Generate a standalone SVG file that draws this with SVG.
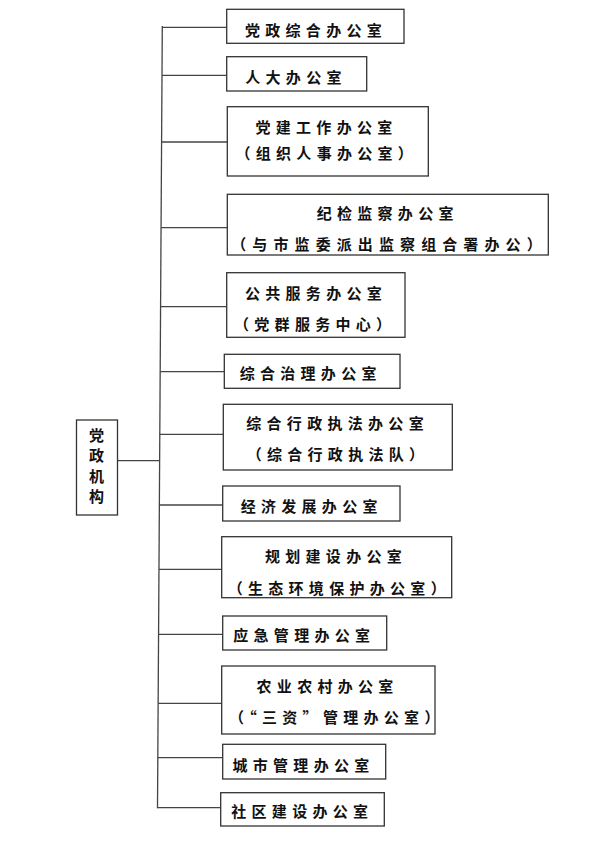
<svg xmlns="http://www.w3.org/2000/svg" width="600" height="841" viewBox="0 0 600 841">
<style>
.box{fill:#fff;stroke:#333;stroke-width:1.3}
.ln{stroke:#444;stroke-width:1.3;fill:none}
text{font-family:"Noto Sans CJK SC","Noto Sans CJK TC",sans-serif;font-weight:700;font-size:15px;fill:#111;letter-spacing:5.3px;text-anchor:middle}
.r{letter-spacing:0}
</style>
<rect width="600" height="841" fill="#fff"/>
<g id="connectors">
<line class="ln" x1="162.3" y1="26" x2="157.5" y2="808.3"/>
<line class="ln" x1="117.5" y1="460.7" x2="159.6" y2="460.7"/>
<line class="ln" x1="162.3" y1="27.3" x2="226.7" y2="27.3"/>
<line class="ln" x1="162" y1="75.3" x2="226.7" y2="75.3"/>
<line class="ln" x1="161.6" y1="142" x2="227.3" y2="142"/>
<line class="ln" x1="161.1" y1="227.7" x2="227.3" y2="227.7"/>
<line class="ln" x1="160.6" y1="306.7" x2="226.7" y2="306.7"/>
<line class="ln" x1="160.2" y1="371.7" x2="224.3" y2="371.7"/>
<line class="ln" x1="159.8" y1="434.3" x2="223.3" y2="434.3"/>
<line class="ln" x1="159.4" y1="505" x2="222.7" y2="505"/>
<line class="ln" x1="159" y1="569.3" x2="221.7" y2="569.3"/>
<line class="ln" x1="158.6" y1="634.3" x2="222.7" y2="634.3"/>
<line class="ln" x1="158.1" y1="703.3" x2="221.7" y2="703.3"/>
<line class="ln" x1="157.8" y1="757.7" x2="222.7" y2="757.7"/>
<line class="ln" x1="157.5" y1="807.7" x2="220.7" y2="807.7"/>
</g>
<g id="root">
<rect class="box" x="76.5" y="420" width="41" height="95"/>
<text class="r" x="96.5" y="440.5">党</text>
<text class="r" x="96.5" y="461">政</text>
<text class="r" x="96.5" y="481.5">机</text>
<text class="r" x="96.5" y="502">构</text>
</g>
<g id="n1">
<rect class="box" x="226.7" y="9.3" width="177.3" height="34"/>
<text x="316" y="35.5">党政综合办公室</text>
</g>
<g id="n2">
<rect class="box" x="226.7" y="56.7" width="140" height="34.3"/>
<text x="296" y="83">人大办公室</text>
</g>
<g id="n3">
<rect class="box" x="227.3" y="106.7" width="201" height="69.3"/>
<text x="326.5" y="132.5">党建工作办公室</text>
<text x="326.8" y="159.2">（组织人事办公室）</text>
</g>
<g id="n4">
<rect class="box" x="227.3" y="194.3" width="321" height="60.7"/>
<text x="387.7" y="218.5">纪检监察办公室</text>
<text x="389.5" y="249.5" style="letter-spacing:6.1px">（与市监委派出监察组合署办公）</text>
</g>
<g id="n5">
<rect class="box" x="226.7" y="272.7" width="178.3" height="64.6"/>
<text x="316" y="298.5">公共服务办公室</text>
<text x="315.2" y="330">（党群服务中心）</text>
</g>
<g id="n6">
<rect class="box" x="224.3" y="354.3" width="175.7" height="34"/>
<text x="310.7" y="379.2">综合治理办公室</text>
</g>
<g id="n7">
<rect class="box" x="223.3" y="404.3" width="229" height="65.7"/>
<text x="337.6" y="429.2">综合行政执法办公室</text>
<text x="338" y="460.2">（综合行政执法队）</text>
</g>
<g id="n8">
<rect class="box" x="222.7" y="486" width="177.3" height="35"/>
<text x="311.7" y="511.5">经济发展办公室</text>
</g>
<g id="n9">
<rect class="box" x="221.7" y="536.7" width="230" height="61"/>
<text x="336" y="561.5">规划建设办公室</text>
<text x="339.3" y="593.8">（生态环境保护办公室）</text>
</g>
<g id="n10">
<rect class="box" x="222.7" y="616" width="164" height="34"/>
<text x="304.3" y="640.8">应急管理办公室</text>
</g>
<g id="n11">
<rect class="box" x="221.7" y="666" width="213.3" height="68"/>
<text x="327.6" y="691.5">农业农村办公室</text>
<text x="336.8" y="722.8">（“三资”管理办公室）</text>
</g>
<g id="n12">
<rect class="box" x="222.7" y="744.3" width="163" height="34.7"/>
<text x="303.5" y="770.5">城市管理办公室</text>
</g>
<g id="n13">
<rect class="box" x="220.7" y="792.7" width="163.6" height="33.3"/>
<text x="302.3" y="817.2">社区建设办公室</text>
</g>
</svg>
